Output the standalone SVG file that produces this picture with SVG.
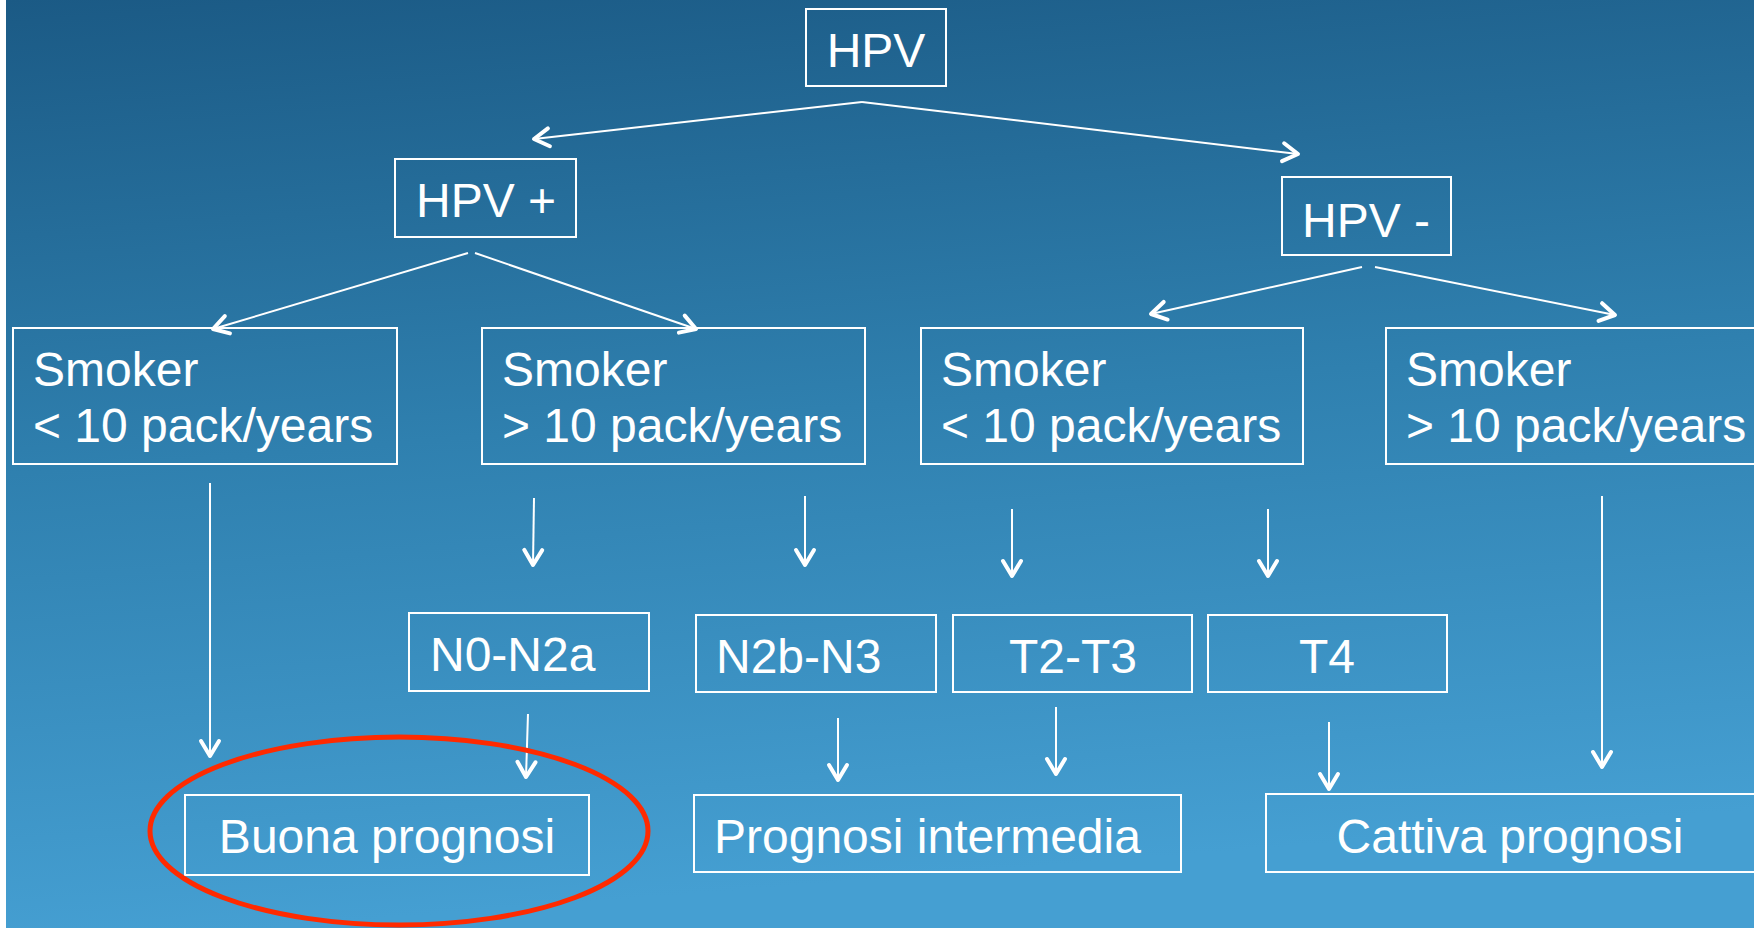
<svg xmlns="http://www.w3.org/2000/svg" width="1754" height="928" viewBox="0 0 1754 928">
<defs>
<linearGradient id="bg" x1="0" y1="0" x2="0.15" y2="1">
<stop offset="0" stop-color="#1b5a85"/>
<stop offset="0.5" stop-color="#2f80af"/>
<stop offset="1" stop-color="#459fd2"/>
</linearGradient>
<marker id="ah" markerUnits="userSpaceOnUse" markerWidth="40" markerHeight="40" refX="0" refY="0" viewBox="-20 -20 40 40" orient="auto" overflow="visible">
<path d="M-15,-9 L0,0 L-15,9" fill="none" stroke="#fff" stroke-width="4" stroke-linecap="round" stroke-linejoin="round"/>
</marker>
<style>
.box{fill:none;stroke:#fff;stroke-width:2}
.t{font-family:"Liberation Sans",Arial,sans-serif;font-size:48px;fill:#fff}
.c{text-anchor:middle}
.ln{stroke:#fff;stroke-width:2;fill:none;marker-end:url(#ah)}
</style>
</defs>
<rect x="0" y="0" width="1754" height="928" fill="url(#bg)"/>
<rect x="0" y="0" width="6" height="928" fill="#fff"/>

<g id="connectors">
<path class="ln" d="M862,102 L534,139"/>
<path class="ln" d="M862,102 L1298,154"/>
<path class="ln" d="M468,253 L213,329"/>
<path class="ln" d="M475,253 L696,329"/>
<path class="ln" d="M1362,267 L1151,314"/>
<path class="ln" d="M1375,267 L1615,315"/>
<path class="ln" d="M210,483 L210,756"/>
<path class="ln" d="M534,498 L533,565"/>
<path class="ln" d="M805,496 L805,565"/>
<path class="ln" d="M1012,509 L1012,576"/>
<path class="ln" d="M1268,509 L1268,576"/>
<path class="ln" d="M1602,496 L1602,767"/>
<path class="ln" d="M528,714 L526,777"/>
<path class="ln" d="M838,718 L838,780"/>
<path class="ln" d="M1056,707 L1056,774"/>
<path class="ln" d="M1329,722 L1329,789"/>
</g>

<g id="hpv"><rect class="box" x="806" y="9" width="140" height="77"/><text class="t c" x="876" y="67">HPV</text></g>
<g id="hpv-pos"><rect class="box" x="395" y="159" width="181" height="78"/><text class="t c" x="486" y="217">HPV +</text></g>
<g id="hpv-neg"><rect class="box" x="1282" y="177" width="169" height="78"/><text class="t c" x="1366" y="237">HPV -</text></g>

<g id="smoker1"><rect class="box" x="13" y="328" width="384" height="136"/><text class="t" x="33" y="386">Smoker</text><text class="t" x="33" y="442">&lt; 10 pack/years</text></g>
<g id="smoker2"><rect class="box" x="482" y="328" width="383" height="136"/><text class="t" x="502" y="386">Smoker</text><text class="t" x="502" y="442">&gt; 10 pack/years</text></g>
<g id="smoker3"><rect class="box" x="921" y="328" width="382" height="136"/><text class="t" x="941" y="386">Smoker</text><text class="t" x="941" y="442">&lt; 10 pack/years</text></g>
<g id="smoker4"><rect class="box" x="1386" y="328" width="380" height="136"/><text class="t" x="1406" y="386">Smoker</text><text class="t" x="1406" y="442">&gt; 10 pack/years</text></g>

<g id="n0n2a"><rect class="box" x="409" y="613" width="240" height="78"/><text class="t" x="430" y="671">N0-N2a</text></g>
<g id="n2bn3"><rect class="box" x="696" y="615" width="240" height="77"/><text class="t" x="716" y="673">N2b-N3</text></g>
<g id="t2t3"><rect class="box" x="953" y="615" width="239" height="77"/><text class="t c" x="1073" y="673">T2-T3</text></g>
<g id="t4"><rect class="box" x="1208" y="615" width="239" height="77"/><text class="t c" x="1327" y="673">T4</text></g>

<g id="buona"><rect class="box" x="185" y="795" width="404" height="80"/><text class="t c" x="387" y="853">Buona prognosi</text></g>
<g id="intermedia"><rect class="box" x="694" y="795" width="487" height="77"/><text class="t" x="714" y="853">Prognosi intermedia</text></g>
<g id="cattiva"><rect class="box" x="1266" y="794" width="496" height="78"/><text class="t c" x="1510" y="853">Cattiva prognosi</text></g>

<g id="highlight"><ellipse cx="399" cy="831" rx="249" ry="94" fill="none" stroke="#ff2a00" stroke-width="5"/></g>
</svg>
